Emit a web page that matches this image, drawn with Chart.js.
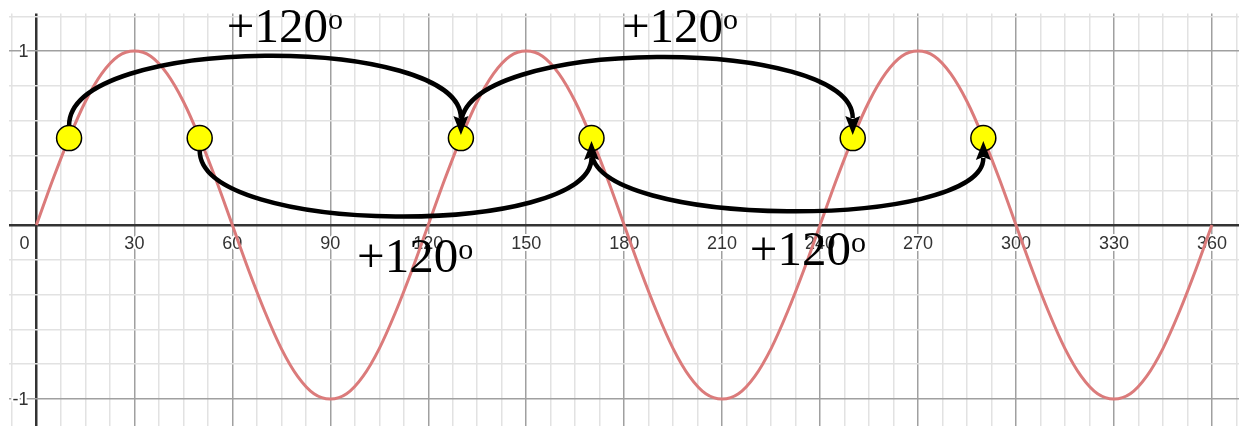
<!DOCTYPE html>
<html>
<head>
<meta charset="utf-8">
<script src="https://cdn.jsdelivr.net/npm/chart.js@4/dist/chart.umd.min.js"></script>
<style>
  html, body { margin: 0; padding: 0; background: #fff; }
  #wrap { width: 1239px; height: 426px; position: relative; }
</style>
</head>
<body>
<div id="wrap"><canvas id="chart"></canvas></div>
<script>
// ----- data -----
const degrees = [
  0, 5, 10, 15, 20, 25, 30, 35, 40, 45, 50, 55, 60, 65, 70, 75, 80, 85, 90, 95, 100, 105, 110, 115,
  120, 125, 130, 135, 140, 145, 150, 155, 160, 165, 170, 175, 180, 185, 190, 195, 200, 205, 210, 215, 220, 225, 230, 235,
  240, 245, 250, 255, 260, 265, 270, 275, 280, 285, 290, 295, 300, 305, 310, 315, 320, 325, 330, 335, 340, 345, 350, 355,
  360
];
const waveValues = [
  0, 0.26, 0.5, 0.71, 0.87, 0.97, 1, 0.97, 0.87, 0.71, 0.5, 0.26, 0, -0.26, -0.5, -0.71, -0.87, -0.97, -1, -0.97, -0.87, -0.71, -0.5, -0.26,
  0, 0.26, 0.5, 0.71, 0.87, 0.97, 1, 0.97, 0.87, 0.71, 0.5, 0.26, 0, -0.26, -0.5, -0.71, -0.87, -0.97, -1, -0.97, -0.87, -0.71, -0.5, -0.26,
  0, 0.26, 0.5, 0.71, 0.87, 0.97, 1, 0.97, 0.87, 0.71, 0.5, 0.26, 0, -0.26, -0.5, -0.71, -0.87, -0.97, -1, -0.97, -0.87, -0.71, -0.5, -0.26,
  0
];

// yellow markers
const markerX = [10, 50, 130, 170, 250, 290];
const markerY = [0.5, 0.5, 0.5, 0.5, 0.5, 0.5];

// curved arrows: from -> to, with the bend level (y of bezier control points)
const arrowFrom = [10, 130, 50, 170];
const arrowTo = [130, 250, 170, 290];
const arrowBend = [1.10, 1.09, -0.07, -0.03];

// "+120o" annotations (left x, baseline y)
const noteText = ['+120', '+120', '+120', '+120'];
const noteX = [58.3, 179.3, 98.2, 218.5];
const noteY = [1.052, 1.052, -0.27, -0.23];

// tick labels
const xTickValues = [0, 30, 60, 90, 120, 150, 180, 210, 240, 270, 300, 330, 360];
const xTickLabels = ['0', '30', '60', '90', '120', '150', '180', '210', '240', '270', '300', '330', '360'];
const yTickValues = [1, -1];
const yTickLabels = ['1', '-1'];

// ----- helpers -----
function gridTicks(from, to, step) {
    const out = [];
    for (let v = from; v <= to + 1e-9; v += step) out.push({ value: Math.round(v * 1000) / 1000 });
    return out;
}

const overlay = {
    id: 'overlay',
    beforeDatasetsDraw(chart) {
        const { ctx, scales: { x, y } } = chart;
        ctx.save();
        ctx.font = '18px "Liberation Sans", Arial, sans-serif';
        ctx.lineJoin = 'round';
        ctx.strokeStyle = '#fff';
        ctx.lineWidth = 4;
        ctx.fillStyle = '#333';
        ctx.textBaseline = 'alphabetic';
        const y0 = y.getPixelForValue(0);
        xTickValues.forEach((v, i) => {
            let px = x.getPixelForValue(v);
            ctx.textAlign = 'center';
            if (v === 0) px -= 12;
            ctx.strokeText(xTickLabels[i], px, y0 + 24);
            ctx.fillText(xTickLabels[i], px, y0 + 24);
        });
        ctx.textAlign = 'right';
        ctx.textBaseline = 'middle';
        const x0 = x.getPixelForValue(0);
        yTickValues.forEach((v, i) => {
            const py = y.getPixelForValue(v) + 1;
            ctx.strokeText(yTickLabels[i], x0 - 8, py);
            ctx.fillText(yTickLabels[i], x0 - 8, py);
        });
        ctx.restore();
    },
    afterDatasetsDraw(chart) {
        const { ctx, scales: { x, y } } = chart;
        const r = 12.5;
        ctx.save();
        ctx.strokeStyle = '#000';
        ctx.fillStyle = '#000';
        ctx.lineWidth = 4.5;
        ctx.lineCap = 'butt';
        arrowFrom.forEach((from, i) => {
            const x1 = x.getPixelForValue(from);
            const x2 = x.getPixelForValue(arrowTo[i]);
            const py = y.getPixelForValue(0.5);
            const c = y.getPixelForValue(arrowBend[i]);
            const dir = c < py ? -1 : 1;
            const startY = py + dir * r;
            const tipY = py + dir * 3;
            const baseY = tipY + dir * 16;
            ctx.beginPath();
            ctx.moveTo(x1, startY);
            ctx.bezierCurveTo(x1, c, x2, c, x2, baseY + dir * 1);
            ctx.stroke();
            // arrow head
            ctx.beginPath();
            ctx.moveTo(x2, tipY);
            ctx.lineTo(x2 - 7.5, baseY + dir * 3);
            ctx.lineTo(x2, baseY);
            ctx.lineTo(x2 + 7.5, baseY + dir * 3);
            ctx.closePath();
            ctx.fill();
        });

        ctx.textAlign = 'left';
        ctx.textBaseline = 'alphabetic';
        noteText.forEach((t, i) => {
            const px = x.getPixelForValue(noteX[i]);
            const py = y.getPixelForValue(noteY[i]);
            ctx.font = '49px "Liberation Serif", "Times New Roman", serif';
            ctx.fillText(t, px, py);
            const w = ctx.measureText(t).width;
            ctx.font = '30px "Liberation Serif", "Times New Roman", serif';
            ctx.fillText('o', px + w, py - 13);
        });
        ctx.restore();
    }
};

const ctx = document.getElementById('chart');
new Chart(ctx.getContext('2d'), {
    type: 'line',
    data: {
        datasets: [
            {
                label: 'markers',
                data: markerX.map((v, i) => ({ x: v, y: markerY[i] })),
                showLine: false,
                pointRadius: 12.5,
                pointBackgroundColor: '#ffff00',
                pointBorderColor: '#000',
                pointBorderWidth: 1.5,
                order: 0
            },
            {
                label: 'wave',
                data: degrees.map((d, i) => ({ x: d, y: waveValues[i] })),
                borderColor: '#db7b7b',
                borderWidth: 3,
                pointRadius: 0,
                cubicInterpolationMode: 'monotone',
                fill: false,
                order: 1
            }
        ]
    },
    options: {
        responsive: true,
        maintainAspectRatio: false,
        animation: false,
        events: [],
        layout: { autoPadding: false, padding: { left: 9, top: 13.5, right: 0, bottom: 0 } },
        plugins: {
            legend: { display: false },
            tooltip: { enabled: false }
        },
        scales: {
            x: {
                type: 'linear',
                min: -8.4,
                max: 368.3,
                afterBuildTicks: s => { s.ticks = gridTicks(-7.5, 367.5, 7.5); },
                afterFit: s => { s.height = 0; },
                ticks: { display: false, padding: 0 },
                border: { display: false },
                grid: {
                    drawTicks: false,
                    tickLength: 0,
                    color: c => c.tick.value === 0 ? '#333' : (c.tick.value % 30 === 0 ? '#a0a0a0' : '#e2e2e2'),
                    lineWidth: c => c.tick.value === 0 ? 2.5 : 1.5
                }
            },
            y: {
                type: 'linear',
                min: -1.155,
                max: 1.216,
                afterBuildTicks: s => { s.ticks = gridTicks(-1.2, 1.2, 0.2).filter(t => t.value >= -1.155); },
                afterFit: s => { s.width = 0; },
                ticks: { display: false, padding: 0 },
                border: { display: false },
                grid: {
                    drawTicks: false,
                    tickLength: 0,
                    color: c => c.tick.value === 0 ? '#333' : (Math.abs(c.tick.value) === 1 ? '#a0a0a0' : '#e2e2e2'),
                    lineWidth: c => c.tick.value === 0 ? 2.5 : 1.5
                }
            }
        }
    },
    plugins: [overlay]
});
</script>
</body>
</html>
